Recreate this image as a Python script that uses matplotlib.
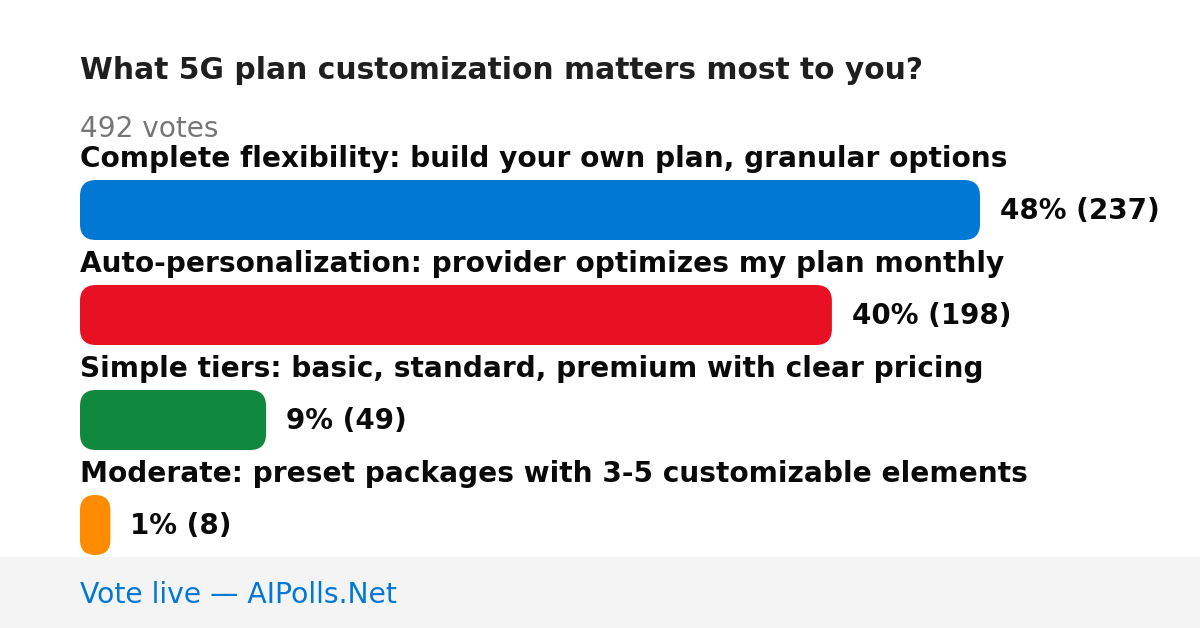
import matplotlib
matplotlib.use("Agg")
import matplotlib.pyplot as plt
from matplotlib.patches import FancyBboxPatch, Rectangle

plt.rcParams["font.family"] = ["DejaVu Sans"]

# poll data
title = "What 5G plan customization matters most to you?"
total_votes = 492
options = [
    "Complete flexibility: build your own plan, granular options",
    "Auto-personalization: provider optimizes my plan monthly",
    "Simple tiers: basic, standard, premium with clear pricing",
    "Moderate: preset packages with 3-5 customizable elements",
]
votes = [237, 198, 49, 8]
percents = [48, 40, 9, 1]
colors = ["#0078d4", "#e81123", "#10893e", "#ff8c00"]
footer = "Vote live \u2014 AIPolls.Net"

W, H = 1200, 628
fig = plt.figure(figsize=(W / 100, H / 100), dpi=100)
ax = fig.add_axes([0, 0, 1, 1])
ax.set_xlim(0, W)
ax.set_ylim(H, 0)
ax.axis("off")

left = 80
max_w = 900
bar_h = 60
first_top = 180
step = 105

ax.text(left, 79, title, fontsize=21.4, fontweight="bold", color="#1f1f1f", va="baseline")
ax.text(left, 137, f"{total_votes} votes", fontsize=20.2, color="#767676", va="baseline")

for i, (lab, v, p, c) in enumerate(zip(options, votes, percents, colors)):
    top = first_top + i * step
    w = v / max(votes) * max_w
    r = min(16, w / 2)
    ax.add_patch(FancyBboxPatch((left, top), w, bar_h,
                                boxstyle=f"round,pad=0,rounding_size={r}",
                                fc=c, ec="none"))
    ax.text(left, top - 13, lab, fontsize=20.2, fontweight="bold", color="#0a0a0a", va="baseline")
    ax.text(left + w + 20, top + bar_h / 2 + 9, f"{p}% ({v})", fontsize=20,
            fontweight="bold", color="#0a0a0a", va="baseline")

# footer band
ax.add_patch(Rectangle((0, 557), W, H - 557, fc="#f4f4f4", ec="none"))
ax.text(left, 603, footer, fontsize=20.3, color="#0078d4", va="baseline")

fig.savefig("out.png", dpi=100)
